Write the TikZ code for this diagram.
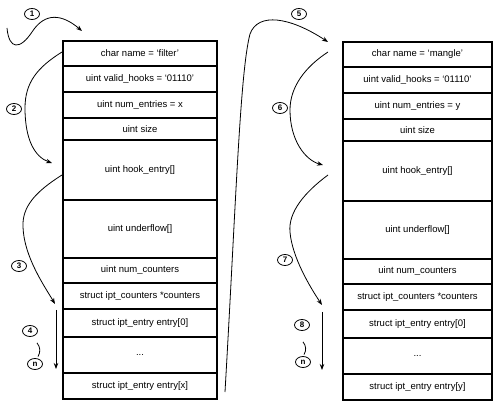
\documentclass[tikz,border=0pt]{standalone}
\usepackage{fontspec}
\setmainfont{Liberation Sans}
\usetikzlibrary{arrows.meta, positioning, shapes.geometric}
\tikzset{
    memlayout/.style={x=1pt, y=1pt, >={Stealth[length=6pt,width=4.5pt]}},
    field/.style={draw, line width=1.8pt, outer sep=0pt, inner sep=1pt, font=\fontsize{9.5}{11}\selectfont},
    filterrow/.style={field, minimum width=154pt, minimum height=#1},
    manglerow/.style={field, minimum width=149pt, minimum height=#1},
    % circled step numbers beside the walk
    stepno/.style={draw, ellipse, line width=0.8pt, inner sep=0pt, minimum width=15pt, minimum height=11pt, font=\fontsize{8}{9}\selectfont\bfseries},
    flow/.style={->, line width=0.8pt},
    tie/.style={line width=0.8pt},
}

\begin{document}
\begin{tikzpicture}[memlayout]
    \useasboundingbox (0,0) rectangle (493,402);

    % filter table: rows stacked under one another
    \node[filterrow=25pt, anchor=north west] (fname) at (63,361) {char name = `filter'};
    \node[filterrow=26pt, below=0pt of fname]  (fhooks) {uint valid\_hooks = `01110'};
    \node[filterrow=26pt, below=0pt of fhooks] (fnum)   {uint num\_entries = x};
    \node[filterrow=22pt, below=0pt of fnum]   (fsize)  {uint size};
    \node[filterrow=60pt, below=0pt of fsize]  (fhook)  {uint hook\_entry[]};
    \node[filterrow=58pt, below=0pt of fhook]  (funder) {uint underflow[]};
    \node[filterrow=25pt, below=0pt of funder] (fcnt)   {uint num\_counters};
    \node[filterrow=26pt, below=0pt of fcnt]   (fctr)   {struct ipt\_counters *counters};
    \node[filterrow=28pt, below=0pt of fctr]   (fent)   {struct ipt\_entry entry[0]};
    \node[filterrow=36pt, below=0pt of fent]   (fdots)  {...};
    \node[filterrow=26pt, below=0pt of fdots]  (fentx)  {struct ipt\_entry entry[x]};

    % mangle table
    \node[manglerow=25pt, anchor=north west] (mname) at (343,360) {char name = `mangle'};
    \node[manglerow=26pt, below=0pt of mname]  (mhooks) {uint valid\_hooks = `01110'};
    \node[manglerow=26pt, below=0pt of mhooks] (mnum)   {uint num\_entries = y};
    \node[manglerow=22pt, below=0pt of mnum]   (msize)  {uint size};
    \node[manglerow=60pt, below=0pt of msize]  (mhook)  {uint hook\_entry[]};
    \node[manglerow=58pt, below=0pt of mhook]  (munder) {uint underflow[]};
    \node[manglerow=25pt, below=0pt of munder] (mcnt)   {uint num\_counters};
    \node[manglerow=26pt, below=0pt of mcnt]   (mctr)   {struct ipt\_counters *counters};
    \node[manglerow=28pt, below=0pt of mctr]   (ment)   {struct ipt\_entry entry[0]};
    \node[manglerow=36pt, below=0pt of ment]   (mdots)  {...};
    \node[manglerow=26pt, below=0pt of mdots]  (menty)  {struct ipt\_entry entry[y]};

    % step numbers
    \node[stepno] (n1)  at (32,388)  {1};
    \node[stepno] (n2)  at (14,293)  {2};
    \node[stepno] (n3)  at (19,136)  {3};
    \node[stepno] (n4)  at (30,71)   {4};
    \node[stepno] (nn4) at (35,38)   {n};
    \node[stepno] (n5)  at (299,388) {5};
    \node[stepno] (n6)  at (280,294) {6};
    \node[stepno] (n7)  at (285,142) {7};
    \node[stepno] (n8)  at (302,77)  {8};
    \node[stepno] (nn8) at (303,40)  {n};

    % ends of the walk
    \coordinate (s1) at (7,374);   \coordinate (t1) at (82,371);
    \coordinate (s2) at (62,350);  \coordinate (t2) at (52,239);
    \coordinate (s3) at (62,227);  \coordinate (t3) at (55,98);
    \coordinate (s4) at (56,92);   \coordinate (t4) at (56,33);
    \coordinate (s5) at (225,10);  \coordinate (t5) at (328,360);
    \coordinate (s6) at (328,350); \coordinate (t6) at (323,237);
    \coordinate (s7) at (328,227); \coordinate (t7) at (322,97);
    \coordinate (s8) at (322,90);  \coordinate (t8) at (322,32);

    % walk through filter
    \draw[flow] (s1) .. controls (9,352) and (20,352) .. (32,370) .. controls (45,390) and (62,388) .. (t1);
    \draw[flow] (s2) .. controls (38,335) and (25,320) .. (25,294) .. controls (25,262) and (35,245) .. (t2);
    \draw[flow] (s3) .. controls (35,210) and (22,195) .. (23,175) .. controls (24,145) and (45,115) .. (t3);
    \draw[flow] (s4) -- (t4);
    \draw[tie] ([xshift=7pt,yshift=-6pt]n4.south) to[bend left=35] ([xshift=3pt,yshift=1.5pt]nn4.north);

    % on to mangle
    \draw[flow] (s5) .. controls (236,200) and (240,330) .. (250,368) .. controls (258,390) and (290,385) .. (t5);
    \draw[flow] (s6) .. controls (305,335) and (290,315) .. (290,292) .. controls (290,262) and (305,242) .. (t6);
    \draw[flow] (s7) .. controls (305,210) and (288,190) .. (290,170) .. controls (292,145) and (310,115) .. (t7);
    \draw[flow] (s8) -- (t8);
    \draw[tie] ([xshift=1pt,yshift=-11pt]n8.south) to[bend left=35] ([xshift=1pt,yshift=1.5pt]nn8.north);
\end{tikzpicture}
\end{document}
